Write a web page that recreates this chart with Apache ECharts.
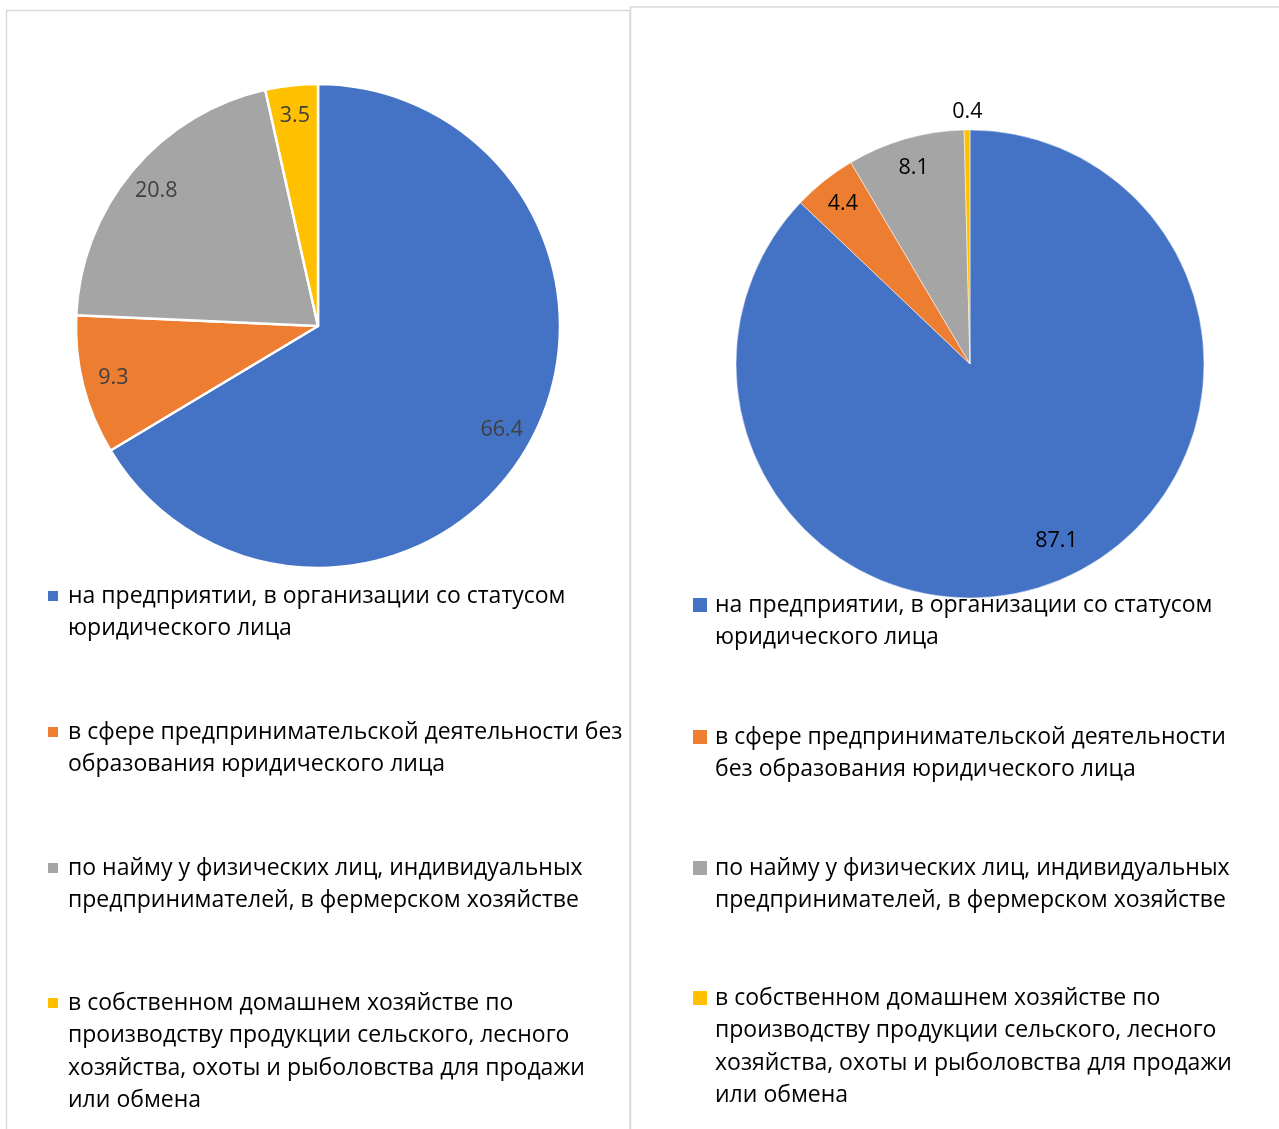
<!DOCTYPE html>
<html><head><meta charset="utf-8">
<script src="https://cdn.jsdelivr.net/npm/echarts@6/dist/echarts.min.js"></script>
<style>html,body{margin:0;padding:0;background:#fff}#c{width:1279px;height:1129px}</style>
</head><body><div id="c"></div>
<script>
// ---- data ----
const categories = [
  'на предприятии, в организации со статусом юридического лица',
  'в сфере предпринимательской деятельности без образования юридического лица',
  'по найму у физических лиц, индивидуальных предпринимателей, в фермерском хозяйстве',
  'в собственном домашнем хозяйстве по производству продукции сельского, лесного хозяйства, охоты и рыболовства для продажи или обмена'
];
const leftValues = [66.4, 9.3, 20.8, 3.5];
const rightValues = [87.1, 4.4, 8.1, 0.4];
const leftLegendLabels = [
  'на предприятии, в организации со статусом\nюридического лица',
  'в сфере предпринимательской деятельности без\nобразования юридического лица',
  'по найму у физических лиц, индивидуальных\nпредпринимателей, в фермерском хозяйстве',
  'в собственном домашнем хозяйстве по\nпроизводству продукции сельского, лесного\nхозяйства, охоты и рыболовства для продажи\nили обмена'
];
const rightLegendLabels = [
  'на предприятии, в организации со статусом\nюридического лица',
  'в сфере предпринимательской деятельности\nбез образования юридического лица',
  'по найму у физических лиц, индивидуальных\nпредпринимателей, в фермерском хозяйстве',
  'в собственном домашнем хозяйстве по\nпроизводству продукции сельского, лесного\nхозяйства, охоты и рыболовства для продажи\nили обмена'
];
const colors = ['#4472C4', '#ED7D31', '#A5A5A5', '#FFC000'];

// ---- layout ----
const FONT = 'Open Sans';
const LH = 32.5;
const LEFT_PIE = {center: [318, 326], r: 242};
const RIGHT_PIE = {center: [970, 364], r: 234};
const leftLegendRows = [596, 732, 868, 1003];
const rightLegendRows = [605, 737, 868, 998];

function pieData(values) {
  return categories.map((c, i) => ({name: c, value: values[i], itemStyle: {color: colors[i]}}));
}
function labelData(values) {
  return categories.map((c, i) => ({name: c, value: values[i]}));
}
function makeLegend(name, label, left, row, icon, padL) {
  const n = label.split('\n').length;
  // leading blank lines keep the icon level with the first text line
  const text = '\n'.repeat(n - 1) + label;
  return {
    orient: 'vertical', left: left, top: row - (n - 0.5) * LH, padding: 0,
    itemWidth: icon, itemHeight: icon, icon: 'rect', selectedMode: false,
    data: [name], formatter: () => text,
    itemStyle: {borderWidth: 0},
    textStyle: {fontFamily: FONT, fontSize: 23, lineHeight: LH, color: '#000',
      padding: [0, 0, 0, padL]}
  };
}
const legends = [];
categories.forEach((c, i) => {
  legends.push(makeLegend(c, leftLegendLabels[i], 48, leftLegendRows[i], 10, 5));
  legends.push(makeLegend(c, rightLegendLabels[i], 693, rightLegendRows[i], 14, 3));
});

const chart = echarts.init(document.getElementById('c'));
chart.setOption({
  animation: false,
  color: colors,
  graphic: [
    {type: 'rect', silent: true, z: -10, shape: {x: 6.5, y: 10.5, width: 623.5, height: 1200},
      style: {fill: 'none', stroke: '#d9d9d9', lineWidth: 1.5}},
    {type: 'rect', silent: true, z: -10, shape: {x: 630.5, y: 7, width: 800, height: 1200},
      style: {fill: 'none', stroke: '#d9d9d9', lineWidth: 1.5}}
  ],
  legend: legends,
  series: [
    {type: 'pie', center: LEFT_PIE.center, radius: LEFT_PIE.r, startAngle: 90, clockwise: true,
      data: pieData(leftValues), silent: true,
      itemStyle: {borderColor: '#fff', borderWidth: 2.5},
      label: {show: false}, labelLine: {show: false}, emphasis: {disabled: true}},
    {type: 'pie', center: RIGHT_PIE.center, radius: RIGHT_PIE.r, startAngle: 90, clockwise: true,
      data: pieData(rightValues), silent: true,
      itemStyle: {borderColor: '#fff', borderWidth: 0.5},
      label: {show: false}, labelLine: {show: false}, emphasis: {disabled: true}},
    {type: 'pie', center: LEFT_PIE.center, radius: [LEFT_PIE.r * 0.72, LEFT_PIE.r], startAngle: 90,
      data: labelData(leftValues), silent: true, legendHoverLink: false,
      itemStyle: {color: 'rgba(0,0,0,0)', borderWidth: 0},
      label: {show: true, position: 'inside', formatter: '{c}', color: '#404040', fontSize: 21.5, fontFamily: FONT},
      labelLine: {show: false}, emphasis: {disabled: true}},
    {type: 'pie', center: RIGHT_PIE.center, radius: [RIGHT_PIE.r * 0.72, RIGHT_PIE.r], startAngle: 90,
      data: labelData(rightValues), silent: true, legendHoverLink: false,
      itemStyle: {color: 'rgba(0,0,0,0)', borderWidth: 0},
      label: {show: true, position: 'inside', formatter: '{c}', color: '#000', fontSize: 21.5, fontFamily: FONT},
      labelLine: {show: false}, emphasis: {disabled: true},
      labelLayout: function (p) {
        if (rightValues[p.dataIndex] < 1) return {dy: -48};
        if (p.dataIndex === 0) return {dx: 6, dy: -11};
        return {};
      }}
  ]
});
</script></body></html>
